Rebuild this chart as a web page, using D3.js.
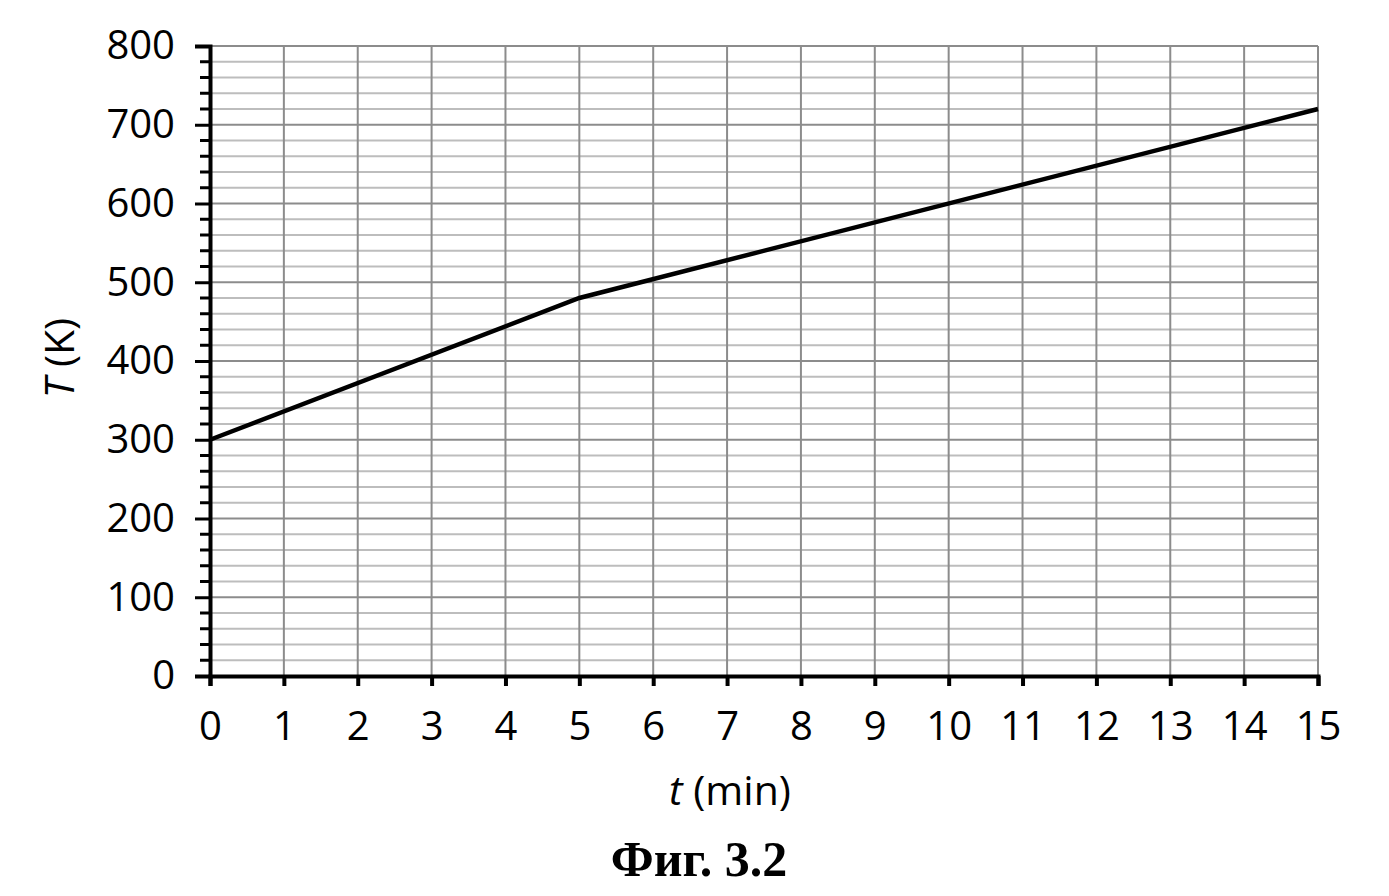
<!DOCTYPE html>
<html>
<head>
<meta charset="utf-8">
<script src="https://cdn.jsdelivr.net/npm/d3@7"></script>
<style>
  body { margin: 0; background: #fff; }
  text { font-family: "Open Sans", sans-serif; }
</style>
</head>
<body>
<script>
// Data
let times = [0, 5, 15]
let temps = [300, 480, 720]
let xTicks = d3.range(0, 16)
let yTicks = [0, 100, 200, 300, 400, 500, 600, 700, 800]

let width = 1389
let height = 896

let margin = { left: 210, top: 46, right: 71, bottom: 220 }

let chartWidth = width - margin.left - margin.right
let chartHeight = height - margin.top - margin.bottom

let svg = d3.select('body')
    .append('svg')
    .attr('width', width)
    .attr('height', height)

let chartGroup = svg.append('g')
    .attr('transform', `translate(${margin.left}, ${margin.top})`)

let xScale = d3.scaleLinear().domain([0, 15]).range([0, chartWidth])
let yScale = d3.scaleLinear().domain([0, 800]).range([chartHeight, 0])

// minor horizontal grid every 20 K
let minor = d3.range(20, 800, 20).filter(v => v % 100 != 0)
chartGroup.append('g').selectAll('line')
    .data(minor)
    .join('line')
    .attr('x1', 0).attr('x2', chartWidth)
    .attr('y1', d => yScale(d)).attr('y2', d => yScale(d))
    .attr('stroke', '#bdbdbd')
    .attr('stroke-width', 2)

// major grid
chartGroup.append('g').selectAll('line')
    .data(yTicks.slice(1))
    .join('line')
    .attr('x1', 0).attr('x2', chartWidth)
    .attr('y1', d => yScale(d)).attr('y2', d => yScale(d))
    .attr('stroke', '#8c8c8c')
    .attr('stroke-width', 2)

chartGroup.append('g').selectAll('line')
    .data(xTicks.slice(1))
    .join('line')
    .attr('x1', d => xScale(d)).attr('x2', d => xScale(d))
    .attr('y1', 0).attr('y2', chartHeight)
    .attr('stroke', '#8c8c8c')
    .attr('stroke-width', 2)

// y axis with minor ticks
chartGroup.append('g')
    .selectAll('line')
    .data(minor)
    .join('line')
    .attr('x1', -10).attr('x2', 0)
    .attr('y1', d => yScale(d)).attr('y2', d => yScale(d))
    .attr('stroke', '#000')
    .attr('stroke-width', 3)

let yAxis = d3.axisLeft(yScale).tickValues(yTicks).tickSize(15).tickPadding(20)
let yG = chartGroup.append('g').call(yAxis)
yG.selectAll('line').attr('stroke-width', 3)
yG.select('.domain').attr('stroke-width', 4)
yG.selectAll('text').style('font-size', '40px').attr('fill', '#000')
    .style('font-family', '"Open Sans", sans-serif')

let xAxis = d3.axisBottom(xScale).tickValues(xTicks).tickSize(10).tickPadding(26)
let xG = chartGroup.append('g')
    .attr('transform', `translate(0, ${chartHeight})`)
    .call(xAxis)
xG.selectAll('line').attr('stroke-width', 4)
xG.select('.domain').attr('stroke-width', 4)
xG.selectAll('text').style('font-size', '40px').attr('fill', '#000')
    .style('font-family', '"Open Sans", sans-serif')

// line
let line = d3.line()
    .x((d, i) => xScale(times[i]))
    .y(d => yScale(d))

chartGroup.append('path')
    .datum(temps)
    .attr('d', line)
    .attr('fill', 'none')
    .attr('stroke', '#000')
    .attr('stroke-width', 4.5)

// axis titles
let yTitle = svg.append('text')
    .attr('transform', `translate(74, 358) rotate(-90)`)
    .attr('text-anchor', 'middle')
    .style('font-size', '41px')
yTitle.append('tspan').style('font-style', 'italic').text('T')
yTitle.append('tspan').text(' (K)')

let xTitle = svg.append('text')
    .attr('x', 730).attr('y', 805)
    .attr('text-anchor', 'middle')
    .style('font-size', '41px')
xTitle.append('tspan').style('font-style', 'italic').text('t')
xTitle.append('tspan').text(' (min)')

svg.append('text')
    .attr('x', 699).attr('y', 876)
    .attr('text-anchor', 'middle')
    .style('font-family', '"Liberation Serif", serif')
    .style('font-weight', 'bold')
    .style('font-size', '50px')
    .text('Фиг. 3.2')
</script>
</body>
</html>
